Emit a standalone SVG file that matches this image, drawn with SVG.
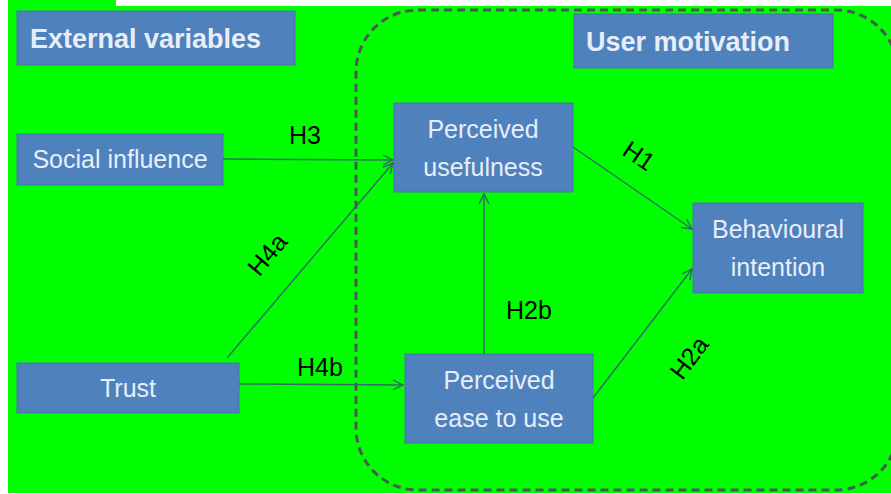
<svg xmlns="http://www.w3.org/2000/svg" width="891" height="494" viewBox="0 0 891 494">
<defs>
<style>
.box{fill:#4F81BD;stroke:#4674AA;stroke-width:1}
.bt{font-family:"Liberation Sans",Arial,sans-serif;font-size:25px;fill:#E6EEFA;text-anchor:middle}
.tt{font-family:"Liberation Sans",Arial,sans-serif;font-size:27px;font-weight:bold;fill:#E6EEFA}
.lb{font-family:"Liberation Sans",Arial,sans-serif;font-size:25px;fill:#000;text-anchor:middle}
.cn{stroke:#2F6E62;stroke-width:1.5;fill:none;marker-end:url(#arr)}
</style>
<marker id="arr" viewBox="0 0 12 12" refX="11" refY="6" markerWidth="12" markerHeight="12" markerUnits="userSpaceOnUse" orient="auto">
<path d="M1,1 L11,6 L1,11" fill="none" stroke="#2F6E62" stroke-width="1.5"/>
</marker>
</defs>
<rect x="0" y="0" width="891" height="494" fill="#FFFFFF"/>
<rect x="8" y="6" width="883" height="487" fill="#00FF00"/>
<rect x="8" y="0" width="108" height="7" fill="#00FF00"/>
<rect id="group-border" x="356" y="10" width="542" height="480" rx="62" ry="62" fill="none" stroke="#4A5A52" stroke-width="3" stroke-dasharray="8 5"/>
<g id="external-variables">
<rect class="box" x="17" y="11" width="278" height="54"/>
<text class="tt" x="30" y="48">External variables</text>
</g>
<g id="user-motivation">
<rect class="box" x="574" y="14" width="259" height="54"/>
<text class="tt" x="586" y="51">User motivation</text>
</g>
<g id="social-influence">
<rect class="box" x="17" y="134" width="206" height="51"/>
<text class="bt" x="120" y="168">Social influence</text>
</g>
<g id="trust">
<rect class="box" x="17" y="363" width="222" height="50"/>
<text class="bt" x="128" y="397">Trust</text>
</g>
<g id="perceived-usefulness">
<rect class="box" x="394" y="103" width="179" height="89"/>
<text class="bt" x="483" y="138">Perceived</text>
<text class="bt" x="483" y="176">usefulness</text>
</g>
<g id="behavioural-intention">
<rect class="box" x="693" y="203" width="170" height="90"/>
<text class="bt" x="778" y="238">Behavioural</text>
<text class="bt" x="778" y="276">intention</text>
</g>
<g id="perceived-ease">
<rect class="box" x="405" y="354" width="188" height="89"/>
<text class="bt" x="499" y="389">Perceived</text>
<text class="bt" x="499" y="427">ease to use</text>
</g>
<g id="connectors">
<line class="cn" x1="223" y1="159" x2="393" y2="160"/>
<line class="cn" x1="227" y1="358" x2="393" y2="163"/>
<line class="cn" x1="239" y1="384" x2="403" y2="385"/>
<line class="cn" x1="484" y1="354" x2="484" y2="194"/>
<line class="cn" x1="573" y1="147" x2="692" y2="229"/>
<line class="cn" x1="593" y1="398" x2="692" y2="269"/>
</g>
<g id="labels">
<text class="lb" x="305" y="144">H3</text>
<text class="lb" x="0" y="0" transform="translate(274,260) rotate(-50)">H4a</text>
<text class="lb" x="320" y="376">H4b</text>
<text class="lb" x="529" y="319">H2b</text>
<text class="lb" x="0" y="0" transform="translate(634,163) rotate(34)">H1</text>
<text class="lb" x="0" y="0" transform="translate(696,363) rotate(-53)">H2a</text>
</g>
</svg>
